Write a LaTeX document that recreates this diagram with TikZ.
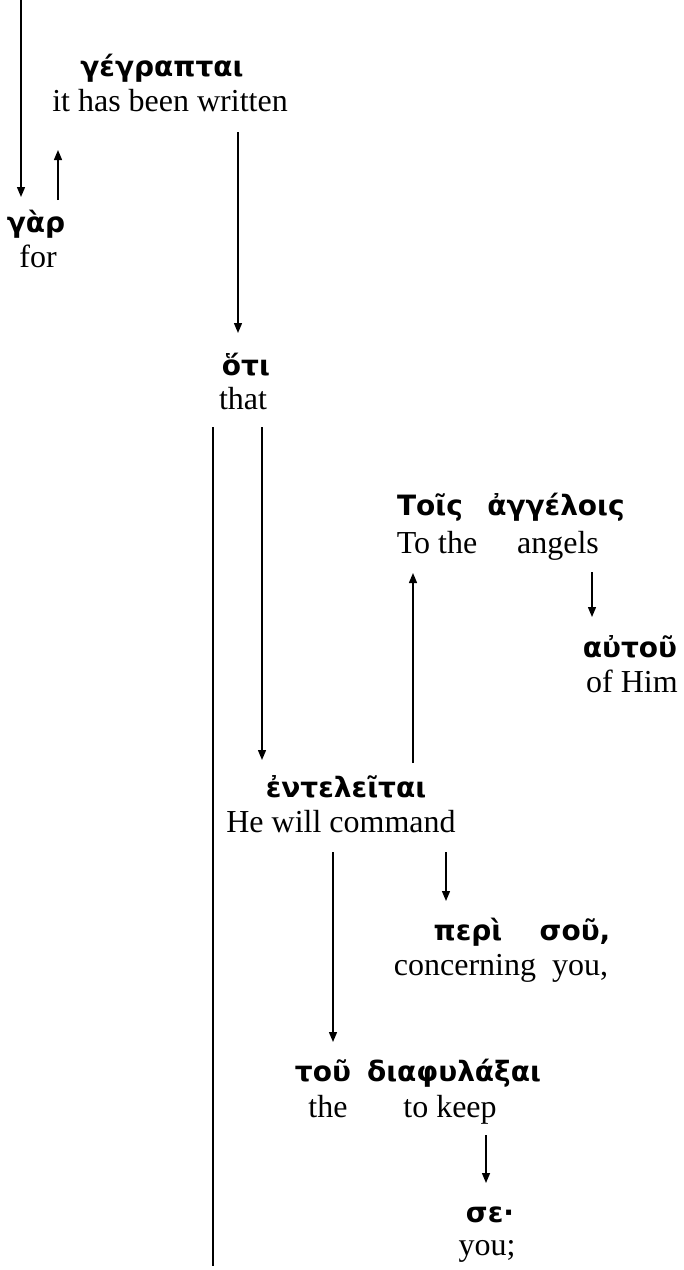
\documentclass[tikz,border=0pt]{standalone}
\usepackage{fontspec}
\setmainfont{Liberation Serif}
\newfontfamily\grk{DejaVu Sans}
\usetikzlibrary{arrows.meta}
\begin{document}
\begin{tikzpicture}[x=1pt,y=-1pt,
  gr/.style={font=\grk\bfseries\fontsize{28}{32}\selectfont, inner sep=0pt, anchor=base},
  en/.style={font=\fontsize{32}{36}\selectfont, inner sep=0pt, anchor=base},
  ln/.style={line width=1.4pt},
  ar/.style={ln,-{Triangle[length=10pt,width=8pt]}}]
\useasboundingbox (0,0) rectangle (684,1270);
% words
\node[gr] (g1) at (162,76) {γέγραπται};
\node[en] (e1) at (170,111) {it has been written};
\node[gr] (g2) at (36,232) {γὰρ};
\node[en] (e2) at (38,267) {for};
\node[gr] (g3) at (246,375) {ὅτι};
\node[en] (e3) at (243,409) {that};
\node[gr] (g4a) at (430,515) {Τοῖς};
\node[gr] (g4b) at (556,515) {ἀγγέλοις};
\node[en] (e4a) at (437,553) {To the};
\node[en] (e4b) at (558,553) {angels};
\node[gr] (g5) at (630,657) {αὐτοῦ};
\node[en] (e5) at (632,692) {of Him};
\node[gr] (g6) at (346,797) {ἐντελεῖται};
\node[en] (e6) at (341,832) {He will command};
\node[gr] (g7a) at (468,940) {περὶ};
\node[gr] (g7b) at (575,940) {σοῦ,};
\node[en] (e7a) at (465,975) {concerning};
\node[en] (e7b) at (580,975) {you,};
\node[gr] (g8a) at (323,1081) {τοῦ};
\node[gr] (g8b) at (454,1081) {διαφυλάξαι};
\node[en] (e8a) at (328,1117) {the};
\node[en] (e8b) at (450,1117) {to keep};
\node[gr] (g9) at (490,1222) {σε·};
\node[en] (e9) at (487,1255) {you;};
% connector end points
\coordinate (a1s) at (21,0);    \coordinate (a1e) at (21,197);
\coordinate (a2s) at (58,200);  \coordinate (a2e) at (58,150);
\coordinate (a3s) at (238,132); \coordinate (a3e) at (238,333);
\coordinate (l4s) at (213,427); \coordinate (l4e) at (213,1266);
\coordinate (a5s) at (262,427); \coordinate (a5e) at (262,760);
\coordinate (a6s) at (413,763); \coordinate (a6e) at (413,573);
\coordinate (a7s) at (592,572); \coordinate (a7e) at (592,617);
\coordinate (a8s) at (333,852); \coordinate (a8e) at (333,1042);
\coordinate (a9s) at (446,852); \coordinate (a9e) at (446,901);
\coordinate (a10s) at (486,1135); \coordinate (a10e) at (486,1183);
% connectors
\draw[ar] (a1s) -- (a1e);
\draw[ar] (a2s) -- (a2e);
\draw[ar] (a3s) -- (a3e);
\draw[ln] (l4s) -- (l4e);
\draw[ar] (a5s) -- (a5e);
\draw[ar] (a6s) -- (a6e);
\draw[ar] (a7s) -- (a7e);
\draw[ar] (a8s) -- (a8e);
\draw[ar] (a9s) -- (a9e);
\draw[ar] (a10s) -- (a10e);
\end{tikzpicture}
\end{document}
